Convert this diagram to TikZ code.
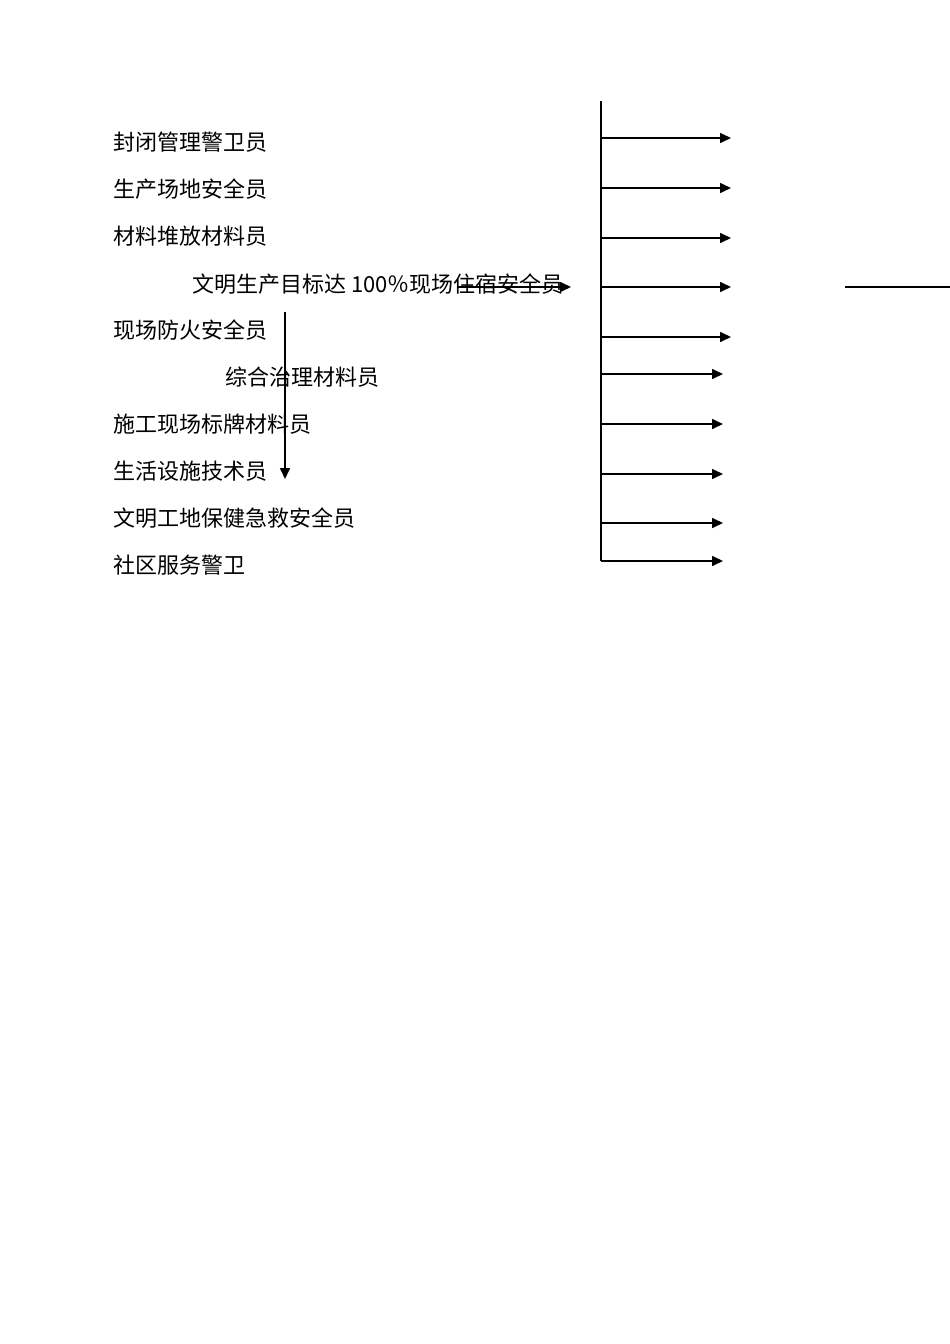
\documentclass[tikz,border=0pt]{standalone}
\usepackage{fontspec}
\setmainfont{Noto Sans CJK SC}
\usetikzlibrary{arrows.meta}
\begin{document}
\begin{tikzpicture}[x=1pt,y=-1pt,
  lbl/.style={anchor=west,inner sep=0pt,font=\fontsize{22}{26}\selectfont},
  conn/.style={line width=1.6pt,-{Triangle[length=11pt,width=10pt]}},
  plain/.style={line width=1.6pt}]
\useasboundingbox (0,0) rectangle (950,1344);
\fill[white] (0,0) rectangle (950,1344);
% left labels
\node[lbl] (t1) at (113,142) {封闭管理警卫员};
\node[lbl] (t2) at (113,189) {生产场地安全员};
\node[lbl] (t3) at (113,236) {材料堆放材料员};
\node[lbl] (t4) at (192,284) {文明生产目标达 100％现场住宿安全员};
\node[lbl] (t5) at (113,330) {现场防火安全员};
\node[lbl] (t6) at (225,377) {综合治理材料员};
\node[lbl] (t7) at (113,424) {施工现场标牌材料员};
\node[lbl] (t8) at (113,471) {生活设施技术员};
\node[lbl] (t9) at (113,518) {文明工地保健急救安全员};
\node[lbl] (t10) at (113,565) {社区服务警卫};
% arrows over text
\coordinate (h1) at (457,287);
\coordinate (h2) at (571,287);
\draw[conn] (h1) -- (h2);
\coordinate (v1) at (285,312);
\coordinate (v2) at (285,479);
\draw[conn] (v1) -- (v2);
% vertical bus
\coordinate (btop) at (601,101);
\coordinate (bbot) at (601,561);
\draw[plain] (btop) -- (bbot);
\foreach \y/\e [count=\i] in {138/731,188/731,238/731,287/731,337/731,374/723,424/723,474/723,523/723,561/723}{
  \coordinate (s\i) at (601,\y);
  \coordinate (e\i) at (\e,\y);
  \draw[conn] (s\i) -- (e\i);
}
\coordinate (r1) at (845,287);
\coordinate (r2) at (950,287);
\draw[plain] (r1) -- (r2);
\end{tikzpicture}
\end{document}
